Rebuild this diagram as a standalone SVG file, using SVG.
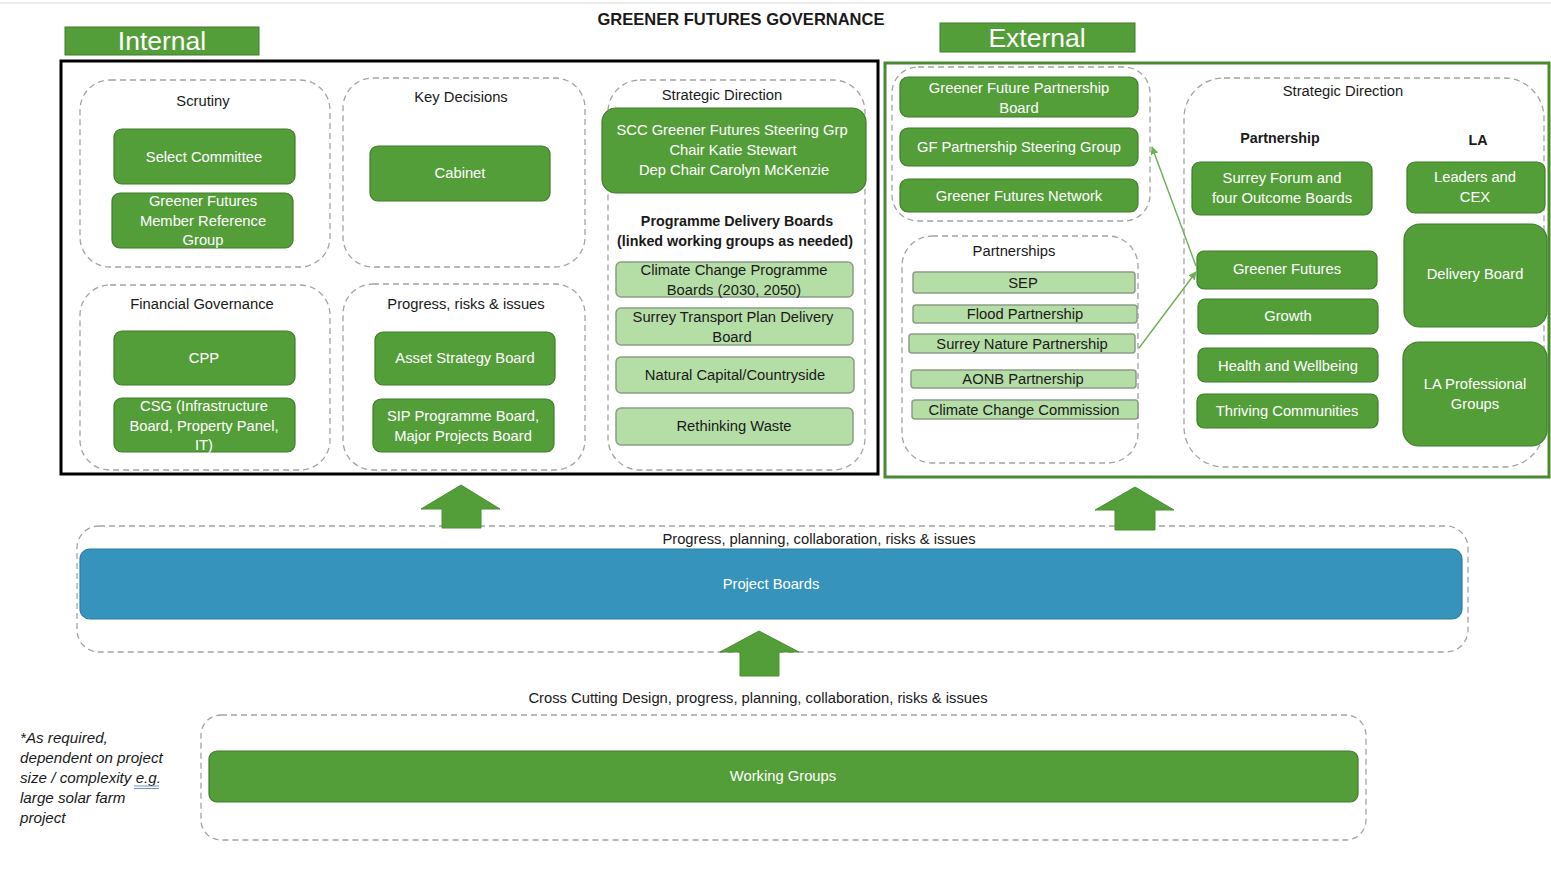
<svg xmlns="http://www.w3.org/2000/svg" width="1551" height="871" viewBox="0 0 1551 871">
  <style>
    text { font-family: "Liberation Sans", Arial, sans-serif; font-size: 14.75px; fill: #1a1a1a; }
    .c { text-anchor: middle; }
    .w { fill: #ffffff; }
    .b { font-weight: bold; font-size: 14.3px; }
    .tag { font-size: 26.5px; fill: #ffffff; text-anchor: middle; }
    .title { font-size: 16.5px; font-weight: bold; text-anchor: middle; }
    .note { font-style: italic; font-size: 15.2px; }
    .grp { fill: none; stroke: #a3a3a3; stroke-width: 1.3; stroke-dasharray: 6 4; }
    .box { fill: #549e39; stroke: #3f7d2a; stroke-width: 1.2; }
    .lbox { fill: #b5dea6; stroke: #8c9c86; stroke-width: 1.5; }
    .blue { fill: #3593bc; stroke: #2c7ca0; stroke-width: 1.2; }
    .arrow { fill: #549e39; stroke: #4a8f33; stroke-width: 1; }
    .link { fill: none; stroke: #6cb153; stroke-width: 1.4; marker-end: url(#head); }
  </style>
  <defs>
    <marker id="head" viewBox="0 0 10 10" refX="9" refY="5" markerWidth="8" markerHeight="8" orient="auto-start-reverse" markerUnits="userSpaceOnUse">
      <path d="M0,0 L10,5 L0,10 z" fill="#6cb153"/>
    </marker>
  </defs>

  <rect x="0" y="0" width="1551" height="871" fill="#ffffff"/>
  <line x1="0" y1="3" x2="1551" y2="3" stroke="#ececec" stroke-width="2"/>

  <text class="title" x="741" y="25">GREENER FUTURES GOVERNANCE</text>

  <!-- Internal section -->
  <g id="internal-label">
    <rect x="65" y="27" width="194" height="28" fill="#549e39" stroke="#3f7d2a" stroke-width="1"/>
    <text class="tag" x="162" y="50">Internal</text>
  </g>
  <rect id="internal-frame" x="61" y="61" width="817" height="413" fill="none" stroke="#000000" stroke-width="3"/>

  <g id="scrutiny">
    <rect class="grp" x="80" y="80" width="250" height="187" rx="30"/>
    <text class="c" x="203" y="106">Scrutiny</text>
  </g>
  <g id="select-committee">
    <rect class="box" x="114" y="129" width="181" height="55" rx="8"/>
    <text class="c w" x="204" y="162">Select Committee</text>
  </g>
  <g id="member-reference-group">
    <rect class="box" x="112" y="193" width="181" height="55" rx="8"/>
    <text class="c w" x="203" y="206">Greener Futures</text>
    <text class="c w" x="203" y="226">Member Reference</text>
    <text class="c w" x="203" y="245">Group</text>
  </g>

  <g id="key-decisions">
    <rect class="grp" x="343" y="78" width="242" height="189" rx="30"/>
    <text class="c" x="461" y="102">Key Decisions</text>
  </g>
  <g id="cabinet">
    <rect class="box" x="370" y="146" width="180" height="55" rx="8"/>
    <text class="c w" x="460" y="178">Cabinet</text>
  </g>

  <g id="financial-governance">
    <rect class="grp" x="80" y="285" width="250" height="185" rx="30"/>
    <text class="c" x="202" y="309">Financial Governance</text>
  </g>
  <g id="cpp">
    <rect class="box" x="114" y="331" width="181" height="54" rx="8"/>
    <text class="c w" x="204" y="363">CPP</text>
  </g>
  <g id="csg">
    <rect class="box" x="114" y="398" width="181" height="54" rx="8"/>
    <text class="c w" x="204" y="411">CSG (Infrastructure</text>
    <text class="c w" x="204" y="431">Board, Property Panel,</text>
    <text class="c w" x="204" y="450">IT)</text>
  </g>

  <g id="progress-risks-issues">
    <rect class="grp" x="343" y="284" width="242" height="186" rx="30"/>
    <text class="c" x="466" y="309">Progress, risks &amp; issues</text>
  </g>
  <g id="asset-strategy-board">
    <rect class="box" x="375" y="332" width="180" height="53" rx="8"/>
    <text class="c w" x="465" y="363">Asset Strategy Board</text>
  </g>
  <g id="sip-programme-board">
    <rect class="box" x="373" y="399" width="181" height="53" rx="8"/>
    <text class="c w" x="463" y="421">SIP Programme Board,</text>
    <text class="c w" x="463" y="441">Major Projects Board</text>
  </g>

  <g id="internal-strategic-direction">
    <rect class="grp" x="608" y="80" width="257" height="390" rx="32"/>
    <text class="c" x="722" y="100">Strategic Direction</text>
  </g>
  <g id="scc-steering-group">
    <rect class="box" x="602" y="108" width="264" height="85" rx="14"/>
    <text class="c w" x="732" y="135">SCC Greener Futures Steering Grp</text>
    <text class="c w" x="733" y="155">Chair Katie Stewart</text>
    <text class="c w" x="734" y="175">Dep Chair Carolyn McKenzie</text>
  </g>
  <g id="programme-delivery-boards">
    <text class="c b" x="737" y="226">Programme Delivery Boards</text>
    <text class="c b" x="735" y="246">(linked working groups as needed)</text>
  </g>
  <g id="climate-change-boards">
    <rect class="lbox" x="616" y="262" width="237" height="35" rx="5"/>
    <text class="c" x="734" y="275">Climate Change Programme</text>
    <text class="c" x="734" y="295">Boards (2030, 2050)</text>
  </g>
  <g id="surrey-transport-plan">
    <rect class="lbox" x="616" y="308" width="237" height="37" rx="5"/>
    <text class="c" x="733" y="322">Surrey Transport Plan Delivery</text>
    <text class="c" x="732" y="342">Board</text>
  </g>
  <g id="natural-capital">
    <rect class="lbox" x="616" y="357" width="238" height="36" rx="5"/>
    <text class="c" x="735" y="380">Natural Capital/Countryside</text>
  </g>
  <g id="rethinking-waste">
    <rect class="lbox" x="616" y="408" width="237" height="37" rx="5"/>
    <text class="c" x="734" y="431">Rethinking Waste</text>
  </g>

  <!-- External section -->
  <g id="external-label">
    <rect x="940" y="23" width="195" height="29" fill="#549e39" stroke="#3f7d2a" stroke-width="1"/>
    <text class="tag" x="1037" y="47">External</text>
  </g>
  <rect id="external-frame" x="885" y="63" width="664" height="414" fill="none" stroke="#4a8a32" stroke-width="3"/>

  <g id="partnership-boards">
    <rect class="grp" x="892" y="67" width="258" height="154" rx="26"/>
  </g>
  <g id="gf-partnership-board">
    <rect class="box" x="900" y="77" width="238" height="40" rx="8"/>
    <text class="c w" x="1019" y="93">Greener Future Partnership</text>
    <text class="c w" x="1019" y="113">Board</text>
  </g>
  <g id="gf-steering-group">
    <rect class="box" x="900" y="128" width="238" height="38" rx="8"/>
    <text class="c w" x="1019" y="152">GF Partnership Steering Group</text>
  </g>
  <g id="gf-network">
    <rect class="box" x="900" y="179" width="238" height="33" rx="8"/>
    <text class="c w" x="1019" y="201">Greener Futures Network</text>
  </g>

  <g id="partnerships">
    <rect class="grp" x="902" y="236" width="236" height="227" rx="30"/>
    <text class="c" x="1014" y="256">Partnerships</text>
  </g>
  <g id="sep">
    <rect class="lbox" x="913" y="272" width="222" height="21" rx="3"/>
    <text class="c" x="1023" y="288">SEP</text>
  </g>
  <g id="flood-partnership">
    <rect class="lbox" x="913" y="305" width="224" height="18" rx="3"/>
    <text class="c" x="1025" y="319">Flood Partnership</text>
  </g>
  <g id="surrey-nature-partnership">
    <rect class="lbox" x="909" y="334" width="226" height="19" rx="3"/>
    <text class="c" x="1022" y="349">Surrey Nature Partnership</text>
  </g>
  <g id="aonb-partnership">
    <rect class="lbox" x="911" y="370" width="225" height="18" rx="3"/>
    <text class="c" x="1023" y="384">AONB Partnership</text>
  </g>
  <g id="climate-change-commission">
    <rect class="lbox" x="912" y="400" width="226" height="19" rx="3"/>
    <text class="c" x="1024" y="415">Climate Change Commission</text>
  </g>

  <g id="external-strategic-direction">
    <rect class="grp" x="1184" y="78" width="360" height="389" rx="40"/>
    <text class="c" x="1343" y="96">Strategic Direction</text>
    <text class="c b" x="1280" y="143">Partnership</text>
    <text class="c b" x="1478" y="145">LA</text>
  </g>
  <g id="surrey-forum">
    <rect class="box" x="1192" y="162" width="180" height="53" rx="8"/>
    <text class="c w" x="1282" y="183">Surrey Forum and</text>
    <text class="c w" x="1282" y="203">four Outcome Boards</text>
  </g>
  <g id="leaders-cex">
    <rect class="box" x="1407" y="162" width="138" height="51" rx="8"/>
    <text class="c w" x="1475" y="182">Leaders and</text>
    <text class="c w" x="1475" y="202">CEX</text>
  </g>
  <g id="greener-futures">
    <rect class="box" x="1197" y="251" width="180" height="38" rx="7"/>
    <text class="c w" x="1287" y="274">Greener Futures</text>
  </g>
  <g id="growth">
    <rect class="box" x="1198" y="299" width="180" height="35" rx="7"/>
    <text class="c w" x="1288" y="321">Growth</text>
  </g>
  <g id="health-wellbeing">
    <rect class="box" x="1198" y="348" width="180" height="34" rx="7"/>
    <text class="c w" x="1288" y="371">Health and Wellbeing</text>
  </g>
  <g id="thriving-communities">
    <rect class="box" x="1197" y="394" width="181" height="34" rx="7"/>
    <text class="c w" x="1287" y="416">Thriving Communities</text>
  </g>
  <g id="delivery-board">
    <rect class="box" x="1404" y="224" width="143" height="103" rx="16"/>
    <text class="c w" x="1475" y="279">Delivery Board</text>
  </g>
  <g id="la-professional-groups">
    <rect class="box" x="1403" y="342" width="144" height="104" rx="16"/>
    <text class="c w" x="1475" y="389">LA Professional</text>
    <text class="c w" x="1475" y="409">Groups</text>
  </g>

  <!-- Project boards tier -->
  <g id="project-boards-tier">
    <rect class="grp" x="77" y="526" width="1391" height="126" rx="22"/>
    <text class="c" x="819" y="544">Progress, planning, collaboration, risks &amp; issues</text>
  </g>
  <g id="project-boards">
    <rect class="blue" x="80" y="549" width="1382" height="70" rx="10"/>
    <text class="c w" x="771" y="589">Project Boards</text>
  </g>

  <!-- Working groups tier -->
  <g id="working-groups-tier">
    <text class="c" x="758" y="703">Cross Cutting Design, progress, planning, collaboration, risks &amp; issues</text>
    <rect class="grp" x="201" y="715" width="1165" height="125" rx="20"/>
  </g>
  <g id="working-groups">
    <rect class="box" x="209" y="751" width="1149" height="51" rx="8"/>
    <text class="c w" x="783" y="781">Working Groups</text>
  </g>

  <g id="note">
    <text class="note" x="20" y="743">*As required,</text>
    <text class="note" x="20" y="763">dependent on project</text>
    <text class="note" x="20" y="783">size / complexity e.g.</text>
    <text class="note" x="20" y="803">large solar farm</text>
    <text class="note" x="20" y="823">project</text>
    <line x1="134" y1="786" x2="159" y2="786" stroke="#6f8fd6" stroke-width="1"/>
    <line x1="134" y1="788.5" x2="159" y2="788.5" stroke="#6f8fd6" stroke-width="1"/>
  </g>

  <!-- Connectors -->
  <g id="connectors">
    <path class="arrow" d="M461,485 L500,509 L481,509 L481,528 L442,528 L442,509 L421,509 Z"/>
    <path class="arrow" d="M1135,487 L1174,510 L1155,510 L1155,530 L1115,530 L1115,510 L1095,510 Z"/>
    <path class="arrow" d="M759,631 L799,652 L779,652 L779,676 L740,676 L740,652 L720,652 Z"/>
    <path class="link" d="M1196,266 L1152,147"/>
    <path class="link" d="M1139,348 L1196,272"/>
  </g>
</svg>
